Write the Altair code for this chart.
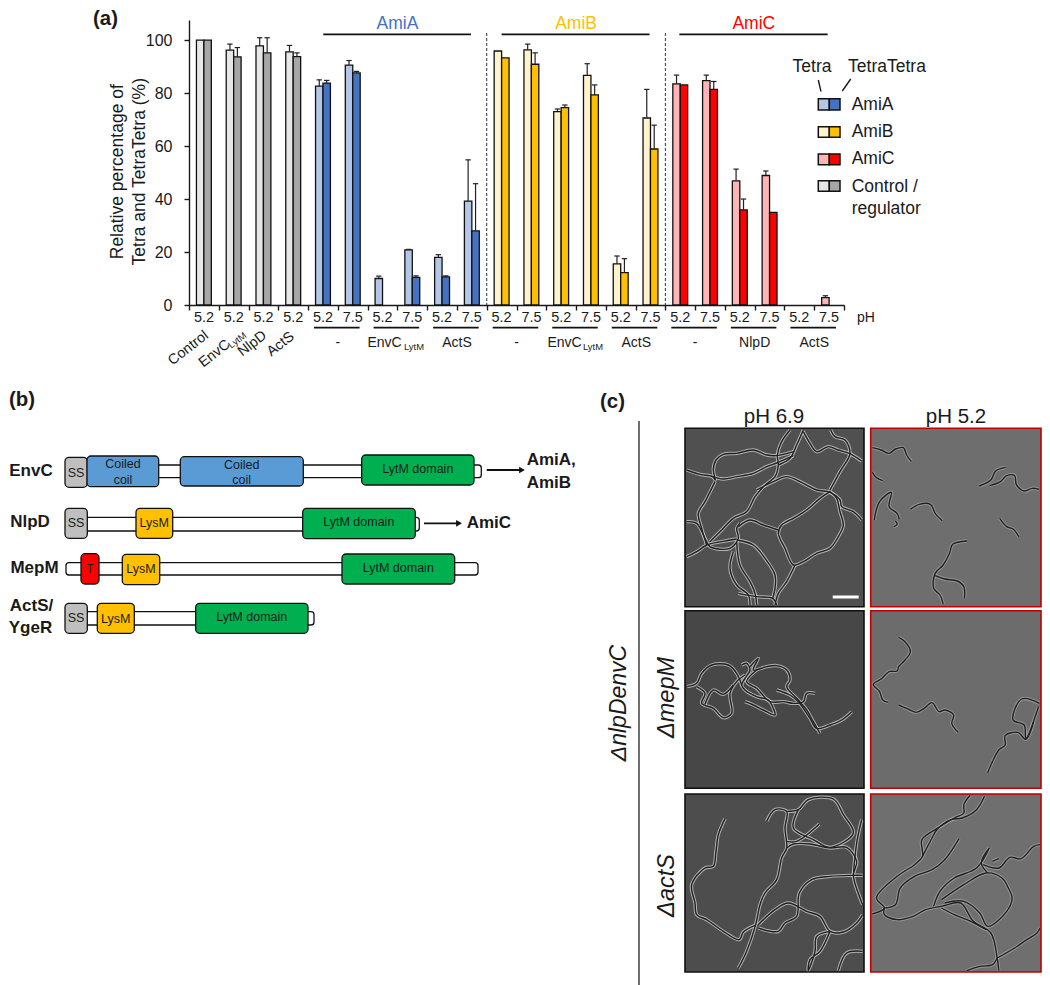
import altair as alt
import pandas as pd

alt.data_transformers.disable_max_rows()

FONT = "Liberation Sans"
INK = "#1a1a1a"

# ---------- panel (a) values ----------
ph_labels = ["5.2", "5.2", "5.2", "5.2",
             "5.2", "7.5", "5.2", "7.5", "5.2", "7.5",
             "5.2", "7.5", "5.2", "7.5", "5.2", "7.5",
             "5.2", "7.5", "5.2", "7.5", "5.2", "7.5"]
tetra = [100, 96.2, 97.8, 95.6,
         82.6, 90.6, 10, 20.8, 18, 39.2,
         95.9, 96.3, 73, 86.7, 15.5, 70.6,
         83.5, 84.7, 46.9, 48.9, None, 2.8]
tetra_top = [None, 98.5, 100.9, 98,
             85, 92.3, 10.9, 21, 19, 54.8,
             None, 98.5, 74, 91.1, 18.5, 81.4,
             86.8, 86.8, 51.3, 50.6, None, 3.5]
tetratetra = [100, 93.7, 95.2, 93.8,
              83.8, 87.6, None, 10.4, 10.6, 28,
              93.3, 90.9, 74.5, 79.3, 12.2, 58.9,
              83.1, 81.4, 35.9, 35, None, None]
tetratetra_top = [None, 97.2, 100.9, 95.2,
                  84.8, 88.2, None, 11, 11, 45.8,
                  None, 95.2, 75.5, 83.1, 17.5, 67.9,
                  None, 84.4, 40, None, None, None]
family = ["Control"] * 4 + ["AmiA"] * 6 + ["AmiB"] * 6 + ["AmiC"] * 6
light = {"Control": "#E7E7E7", "AmiA": "#B4C7E7", "AmiB": "#FFF2CC", "AmiC": "#FFB5B5"}
dark = {"Control": "#A6A6A6", "AmiA": "#4472C4", "AmiB": "#FFC000", "AmiC": "#FF0000"}
title_colors = {"AmiA": "#4472C4", "AmiB": "#FFC000", "AmiC": "#FF0000"}

bars, errs = [], []
for g, fam in enumerate(family):
    for x0, vals, tops, pal in ((0.25, tetra, tetra_top, light), (0.5, tetratetra, tetratetra_top, dark)):
        if vals[g] is not None:
            bars.append(dict(x=g + x0, x2=g + x0 + 0.25, v=vals[g], fill=pal[fam]))
        if tops[g] is not None:
            c = g + x0 + 0.125
            errs.append(dict(c=c, lo=c - 0.09, hi=c + 0.09, v=vals[g], top=tops[g]))

W, H = 1034, 977
xa = alt.Scale(domain=[0, 22], range=[181, 836], nice=False, zero=False)
ya = alt.Scale(domain=[0, 107.6], range=[297, 12], nice=False, zero=False)
px = alt.Scale(domain=[0, 1050], range=[-8, 1042], nice=False, zero=False)
py = alt.Scale(domain=[0, 985], range=[-8, 977], nice=False, zero=False)


def X(f, s=xa):
    return alt.X(f + ":Q", scale=s, axis=None, title=None)


def Y(f, s=ya):
    return alt.Y(f + ":Q", scale=s, axis=None, title=None)


layers = []

# bars with the two real axes
layers.append(
    alt.Chart(pd.DataFrame(bars)).mark_rect(stroke="#111111", strokeWidth=1.3).encode(
        x=alt.X("x:Q", scale=xa, title=None,
                axis=alt.Axis(values=list(range(23)), labels=False, tickSize=5, tickWidth=1.4,
                              domainWidth=1.4, domainColor=INK, tickColor=INK, grid=False,
                              offset=-(H - 297), orient="bottom")),
        x2="x2:Q",
        y=alt.Y("v:Q", scale=ya, title=None,
                axis=alt.Axis(values=[0, 20, 40, 60, 80, 100], tickSize=5, tickWidth=1.4,
                              domainWidth=1.4, domainColor=INK, tickColor=INK, grid=False,
                              offset=-181, orient="left", labelFont=FONT, labelFontSize=16,
                              labelColor=INK, labelPadding=12)),
        y2=alt.Y2(datum=0),
        fill=alt.Fill("fill:N", scale=None),
    )
)
err_df = pd.DataFrame(errs)
layers.append(alt.Chart(err_df).mark_rule(color="#222222", strokeWidth=1.2).encode(x=X("c"), y=Y("v"), y2="top:Q"))
layers.append(alt.Chart(err_df).mark_rule(color="#222222", strokeWidth=1.2).encode(x=X("lo"), x2="hi:Q", y=Y("top")))

# pH tick labels
ph_df = pd.DataFrame({"g": [i + 0.5 for i in range(22)], "t": ph_labels})
layers.append(alt.Chart(ph_df).mark_text(font=FONT, fontSize=14.4, color=INK, baseline="middle").encode(
    x=X("g"), y=alt.value(310), text="t:N"))

# group underlines (one per regulator, two pH values each)
under_start = [4, 6, 8, 10, 12, 14, 16, 18, 20]
under_df = pd.DataFrame({"a": [g + 0.2 for g in under_start], "b": [g + 1.73 for g in under_start]})
layers.append(alt.Chart(under_df).mark_rule(color="#111111", strokeWidth=1.7).encode(
    x=X("a"), x2="b:Q", y=alt.value(319.7)))

# regulators under the lines
reg_df = pd.DataFrame({"g": [5, 9, 11, 15.02, 17, 19, 21],
                       "t": ["-", "ActS", "-", "ActS", "-", "NlpD", "ActS"]})
layers.append(alt.Chart(reg_df).mark_text(font=FONT, fontSize=14, color=INK, baseline="middle").encode(
    x=X("g"), y=alt.value(335), text="t:N"))

# enzyme headers, lines and dashed separators
head_df = pd.DataFrame({"a": [4.51, 10.5, 16.47], "b": [9.47, 15.47, 21.45],
                        "m": [7.0, 13.0, 18.97], "t": list(title_colors), "c": list(title_colors.values())})
layers.append(alt.Chart(head_df).mark_rule(color="#111111", strokeWidth=1.8).encode(
    x=X("a"), x2="b:Q", y=alt.value(26.3)))
layers.append(alt.Chart(head_df).mark_text(font=FONT, fontSize=17.5, baseline="middle").encode(
    x=X("m"), y=alt.value(15.5), text="t:N", color=alt.Color("c:N", scale=None)))
sep_df = pd.DataFrame({"g": [10, 16]})
layers.append(alt.Chart(sep_df).mark_rule(color="#333333", strokeWidth=1, strokeDash=[3, 2]).encode(
    x=X("g"), y=alt.value(25), y2=alt.value(297)))


# ---------- helpers in page-like schematic units ----------
def PX(f):
    return alt.X(f + ":Q", scale=px, axis=None, title=None)


def PY(f):
    return alt.Y(f + ":Q", scale=py, axis=None, title=None)


def notes(rows, **kw):
    df = pd.DataFrame(rows, columns=["t", "x", "y", "s", "c"])
    opts = dict(font=FONT, baseline="middle")
    opts.update(kw)
    return alt.Chart(df).mark_text(**opts).encode(
        x=PX("x"), y=PY("y"), text="t:N",
        size=alt.Size("s:Q", scale=None),
        color=alt.Color("c:N", scale=None))


def boxes(rows, **kw):
    df = pd.DataFrame(rows, columns=["x", "x2", "y", "y2", "fill"])
    opts = dict(stroke="#111111", strokeWidth=1.3, cornerRadius=4)
    opts.update(kw)
    return alt.Chart(df).mark_rect(**opts).encode(
        x=PX("x"), x2="x2:Q", y=PY("y"), y2="y2:Q", fill=alt.Fill("fill:N", scale=None))


def segs(rows, **kw):
    df = pd.DataFrame(rows, columns=["x", "x2", "y", "y2"])
    opts = dict(color=INK, strokeWidth=1.5)
    opts.update(kw)
    return alt.Chart(df).mark_rule(**opts).encode(x=PX("x"), x2="x2:Q", y=PY("y"), y2="y2:Q")


# panel (a) text that sits outside the axes
layers.append(notes([["EnvC", 401.7, 343, 14, INK], ["EnvC", 581.7, 343, 14, INK]], align="right"))
layers.append(notes([["LytM", 404, 347, 9.4, INK], ["LytM", 583, 347, 9.4, INK]], align="left"))
layers.append(notes([["Relative percentage of", 118, 171.7, 17.5, INK],
                     ["Tetra and TetraTetra (%)", 140, 171.7, 17.5, INK]], angle=270, align="center"))
layers.append(notes([["Control", 206.7, 334, 14.4, INK], ["NlpD", 265, 334, 14.4, INK],
                     ["ActS", 292.7, 335, 14.4, INK], ["EnvC", 228.5, 343, 14.4, INK]],
                    angle=322, align="right"))
layers.append(notes([["LytM", 229.5, 346.5, 9.4, INK]], angle=322, align="left"))
layers.append(notes([["pH", 866, 318, 14, INK]], align="center"))
layers.append(notes([["Tetra", 812, 67, 17.5, INK], ["TetraTetra", 887, 67, 17.5, INK]], align="center"))
layers.append(segs([[818.3, 821, 80, 91.7], [850.7, 842.3, 79, 91]], strokeWidth=1.4))

# swatch legend
legend_rows = [("AmiA", 98.7, 110), ("AmiB", 126.7, 137.3), ("AmiC", 154, 164.7), ("Control", 180.7, 191.3)]
swatches = []
for fam, y0, y1 in legend_rows:
    swatches.append([818.3, 829.3, y0, y1, light[fam]])
    swatches.append([829.3, 840, y0, y1, dark[fam]])
layers.append(boxes(swatches, cornerRadius=0, strokeWidth=1.5))
layers.append(notes([["AmiA", 851.7, 105, 17.5, INK], ["AmiB", 851.7, 132.3, 17.5, INK],
                     ["AmiC", 851.7, 159.3, 17.5, INK], ["Control /", 851.7, 186.7, 17.5, INK],
                     ["regulator", 851.7, 209, 17.5, INK]], align="left"))

# panel letters (nudged inside the drawing area, which starts at the 8px page margin)
layers.append(notes([["(a)", 93, 19, 20.4, INK], ["(b)", 9, 400, 20.4, INK], ["(c)", 600, 402, 20.4, INK]],
                    align="left", fontWeight="bold"))

# ---------- panel (b) domain maps ----------
GREY, BLUE, GREEN, AMBER, RED = "#BFBFBF", "#5B9BD5", "#00B050", "#FFC000", "#FF0000"
tracks = [[70, 481.3, 465, 477.7, "white"],
          [70, 419.3, 517.3, 531, "white"],
          [66, 478, 562.7, 575, "white"],
          [70, 314, 611.7, 625, "white"]]
domains = [[65, 87.3, 457.3, 487.3, GREY], [87, 158.7, 456, 486.7, BLUE], [180.3, 303.3, 456.7, 486, BLUE],
           [361.7, 474, 455, 485, GREEN],
           [65, 87.3, 508.3, 538.3, GREY], [136, 172.7, 508.3, 538.3, AMBER], [302.7, 415.3, 508.3, 538.7, GREEN],
           [81, 99, 553.7, 584, RED], [122.3, 159.7, 554.3, 584.7, AMBER], [342, 454.7, 554, 584, GREEN],
           [65, 87.3, 603.3, 633.3, GREY], [97.3, 134.3, 603.3, 633.3, AMBER], [195.7, 308, 603.3, 633.3, GREEN]]
layers.append(boxes(tracks, cornerRadius=3))
layers.append(boxes(domains))
S = 12.5
inner = [["Coiled", 123, 464, S, INK], ["coil", 123, 480, S, INK], ["Coiled", 241.7, 464.7, S, INK], ["coil", 241.7, 480, S, INK],
         ["SS", 76, 473, S, INK], ["SS", 76, 523, S, INK], ["SS", 76, 618, S, INK],
         ["LysM", 154.3, 523, S, INK], ["LysM", 141, 569, S, INK], ["LysM", 115.8, 618.5, S, INK], ["T", 90, 569, S, INK],
         ["LytM domain", 417.8, 469.3, S, INK], ["LytM domain", 358.8, 522.3, S, INK],
         ["LytM domain", 398.3, 567.7, S, INK], ["LytM domain", 251.7, 617.3, S, INK]]
layers.append(notes(inner, align="center"))
names = [["EnvC", 31, 470.7, 17, INK], ["NlpD", 30, 522, 17, INK], ["MepM", 34.5, 568, 17, INK],
         ["ActS/", 31.5, 605.7, 17, INK], ["YgeR", 30.5, 628, 17, INK]]
layers.append(notes(names, align="center", fontWeight="bold"))
layers.append(notes([["AmiA,", 526.7, 460, 17, INK], ["AmiB", 526.7, 482.7, 17, INK], ["AmiC", 466.7, 523, 17, INK]],
                    align="left", fontWeight="bold"))
layers.append(segs([[486.7, 521, 470, 470], [424, 458, 523.3, 523.3]], strokeWidth=1.8, color="#111111"))
heads = pd.DataFrame({"x": [522, 459], "y": [470, 523.3]})
layers.append(alt.Chart(heads).mark_point(shape="triangle-right", filled=True, size=45, color="#111111", opacity=1).encode(
    x=PX("x"), y=PY("y")))

# ---------- panel (c) micrograph cell outlines, read in 3x crop units ----------
# the right column is narrowed a little so that its frame stays inside the drawing area
crops = {"p1": (590, 385, 1), "p2": (870.7, 385, 0.9535), "p3": (590, 605, 1),
         "p4": (870.7, 605, 0.9535), "p5": (590, 788, 1), "p6": (870.7, 788, 0.9535)}
cells = {
    "p1": [
        [(290,255),(330,268),(368,275),(376,285),(370,255),(378,225),(400,208),(440,205),(490,195),(530,210),(560,212),(612,200)],
        [(368,275),(400,282),(440,275),(490,265),(530,245),(565,232),(610,212)],
        [(600,135),(575,170),(562,210),(565,240),(555,275),(520,305),(495,335),(470,380),(430,400),(395,435),(360,470)],
        [(640,135),(620,180),(600,220),(565,240)],
        [(640,140),(660,175),(680,200),(715,185),(745,195),(778,205),(815,228)],
        [(722,135),(735,155),(765,165),(780,205),(750,260),(720,315)],
        [(500,315),(550,290),(590,275),(640,295),(680,315),(720,322),(750,345),(755,365),(790,380),(815,405)],
        [(720,320),(690,340),(650,375),(610,400),(575,420),(565,445),(585,490),(610,540),(640,530),(680,505),(720,490),(745,455),(760,420),(750,380),(740,340),(720,320)],
        [(615,540),(590,590),(565,625),(555,660)],
        [(445,425),(480,405),(520,420),(565,435)],
        [(375,290),(345,350),(325,385),(335,430),(350,480)],
        [(290,410),(320,415),(345,460),(360,485),(420,490),(445,460),(440,430),(450,415)],
        [(290,515),(320,500),(350,480),(395,470),(440,462)],
        [(440,465),(490,480),(525,520),(555,570),(555,610),(548,640)],
        [(430,500),(420,550),(440,600),(475,630),(480,660)],
        [(440,470),(450,540),(480,590),(495,625),(500,660)],
        [(445,625),(500,635),(548,640),(560,660)],
    ],
    "p2": [
        [(22,188),(50,195),(75,205),(95,192),(120,188),(130,210),(145,230)],
        [(22,262),(35,278),(55,287)],
        [(28,405),(45,350),(82,322),(75,365),(100,385),(107,402)],
        [(95,408),(100,418),(90,425)],
        [(142,373),(170,358),(205,358),(220,385),(242,407)],
        [(358,303),(395,285),(410,258),(442,247)],
        [(392,302),(425,290),(445,272),(470,272),(475,298),(500,318),(525,310),(547,313)],
        [(423,400),(445,425),(465,432),(483,455)],
        [(320,468),(275,478),(265,505),(245,540),(220,565),(215,610),(235,630),(245,658)],
        [(220,572),(250,582),(290,588),(310,605),(312,640)],
    ],
    "p3": [
        [(292,245),(320,235),(335,205),(365,180),(415,180),(440,205),(455,240)],
        [(320,245),(345,265),(335,295),(370,310),(400,338),(425,325),(420,265),(440,230),(465,210)],
        [(345,298),(370,255),(400,268),(430,240)],
        [(455,180),(470,175),(480,195),(465,220),(455,240),(465,255),(500,275),(535,285),(550,310),(555,330),(520,315),(490,300),(465,290)],
        [(480,185),(505,160),(490,195),(530,185),(560,182),(590,195),(600,225),(590,245),(625,285),(650,315),(670,350),(690,385)],
        [(500,195),(470,230),(500,250),(540,290),(580,290),(610,295),(640,290),(650,265),(675,265)],
        [(560,255),(600,270),(625,290),(660,340),(680,370),(720,360),(755,345),(785,320)],
    ],
    "p4": [
        [(105,97),(125,110),(142,140),(125,165),(105,185),(100,198),(75,200),(50,222),(25,238),(45,260),(55,285),(72,292)],
        [(105,300),(130,310),(160,322),(185,310),(210,293),(232,320),(250,315),(278,330),(272,355),(292,382)],
        [(548,295),(492,282),(465,345),(500,360),(505,400),(545,305)],
        [(385,503),(400,470),(420,435),(440,420),(440,392),(480,382),(505,403),(530,350)],
    ],
    "p5": [
        [(405,92),(385,140),(378,190),(370,235),(345,240),(305,290),(315,345),(320,380),(350,395),(400,430),(448,455),(460,432),(495,412)],
        [(445,540),(470,490),(497,410),(510,350),(525,315),(560,275),(575,210),(590,180),(585,120),(590,70),(555,65),(530,100)],
        [(505,410),(555,365),(595,345),(650,370),(690,385),(720,430),(760,432),(800,405),(818,380)],
        [(505,420),(565,430),(585,405),(620,385),(628,315),(665,275),(720,265),(790,262),(818,262)],
        [(590,180),(610,168),(660,168),(720,180),(770,178),(800,220),(790,262),(810,330),(818,350)],
        [(590,70),(625,65),(655,35),(730,33),(760,80),(790,135),(720,178),(670,155),(610,120),(625,65)],
        [(590,160),(620,160),(688,108)],
        [(720,430),(690,490),(660,515),(655,548),(675,490),(680,445),(720,430)],
        [(745,548),(770,495),(818,490)],
        [(815,95),(800,165),(790,262)],
    ],
    "p6": [
        [(22,378),(60,360),(35,330),(100,265),(155,230),(180,205),(178,155),(225,122),(280,90),(310,75),(310,50),(330,22)],
        [(60,360),(95,350),(110,300),(155,265),(210,245),(250,215),(295,152)],
        [(375,25),(350,65),(305,90),(270,95),(225,125),(210,150),(180,205)],
        [(60,360),(60,380),(100,395),(150,385),(190,365),(240,355),(300,345),(340,400),(395,435),(415,510),(420,548)],
        [(415,510),(470,480),(500,460),(540,435),(550,420)],
        [(320,548),(360,535),(400,530),(415,510)],
        [(215,355),(235,310),(280,270),(350,240),(390,180)],
        [(240,335),(310,290),(380,255),(430,270),(450,300),(462,330),(445,370),(385,415),(360,375),(310,340),(250,345)],
        [(240,360),(280,380),(320,395),(380,425)],
        [(370,230),(420,240),(455,208),(490,212),(530,175),(550,170)],
        [(390,180),(365,225),(385,255)],
        [(400,220),(420,212)],
    ],
}
pts = []
for key, paths in cells.items():
    ox, oy, k = crops[key]
    for n, path in enumerate(paths):
        for i, (zx, zy) in enumerate(path):
            zx0 = zx - 17 if k != 1 else zx
            pts.append(dict(id=f"{key}-{n}", i=i, x=ox + k * zx0 / 3, y=oy + zy / 3, left=k == 1))
pts = pd.DataFrame(pts)

col_x = [(685, 864), (870.7, 1041)]
row_y = [(428.3, 606.7), (610.7, 788.3), (794, 972)]
bg = [["#505050", "#6E6E6E"], ["#474747", "#6C6C6C"], ["#4D4D4D", "#6F6F6F"]]
frame_col = ["#111111", "#C00000"]
layers.append(boxes([[col_x[c][0], col_x[c][1], row_y[r][0], row_y[r][1], bg[r][c]]
                     for r in range(3) for c in range(2)], cornerRadius=0, strokeWidth=0))
for subset, halo_op in ((pts[pts.left], 0.65), (pts[~pts.left], 0.32)):
    for w, col, op in ((3.4, "#E8E8E8", halo_op), (1.4, "#202020", 1)):
        layers.append(alt.Chart(subset.drop(columns="left")).mark_line(
            color=col, strokeWidth=w, opacity=op, strokeJoin="round", interpolate="catmull-rom").encode(
            x=PX("x"), y=PY("y"), detail="id:N", order=alt.Order("i:Q")))
for c in range(2):
    df = pd.DataFrame([dict(x=col_x[c][0], x2=col_x[c][1], y=a, y2=b) for a, b in row_y])
    layers.append(alt.Chart(df).mark_rect(fillOpacity=0, stroke=frame_col[c], strokeWidth=1.6).encode(
        x=PX("x"), x2="x2:Q", y=PY("y"), y2="y2:Q"))
layers.append(segs([[832.7, 858.7, 597, 597]], color="white", strokeWidth=3))
layers.append(segs([[639, 639, 421, 985]], color="#333333", strokeWidth=1.4))
layers.append(notes([["pH 6.9", 774, 417, 20.5, INK], ["pH 5.2", 956, 417, 20.5, INK]], align="center"))
layers.append(notes([["\u0394nlpDenvC", 619, 703, 23, INK], ["\u0394mepM", 667, 697.5, 23.5, INK],
                     ["\u0394actS", 667, 885.5, 23.5, INK]], align="center", angle=270, fontStyle="italic"))

chart = alt.layer(*layers).resolve_scale(
    x="independent", y="independent", color="independent", fill="independent", size="independent"
).properties(width=W, height=H, padding=0, autosize=alt.AutoSizeParams(type="none")).configure_view(stroke=None)

chart.save("out.html", embed_options={"renderer": "svg", "actions": False})
